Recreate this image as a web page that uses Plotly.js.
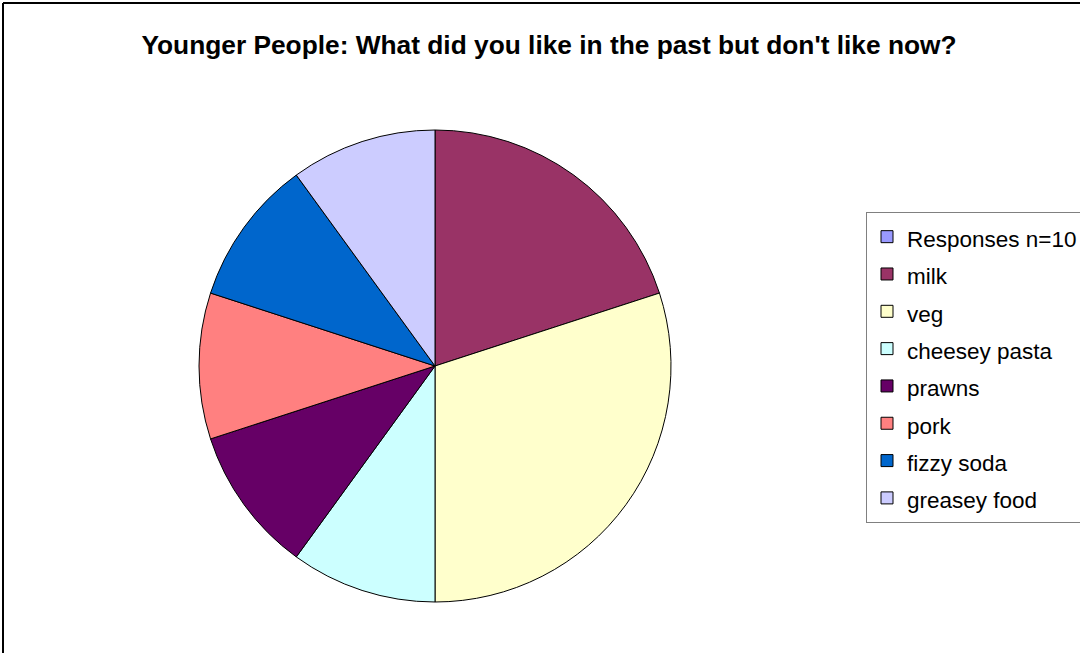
<!DOCTYPE html>
<html>
<head>
<meta charset="utf-8">
<script src="https://cdn.plot.ly/plotly-3.0.1.min.js"></script>
<style>
  html, body { margin: 0; padding: 0; background: #ffffff; }
  #chart { width: 1080px; height: 653px; }
</style>
</head>
<body>
<div id="chart"></div>
<script>
const categories = ["Responses n=10", "milk", "veg", "cheesey pasta", "prawns", "pork", "fizzy soda", "greasey food"];
const counts = [0, 2, 3, 1, 1, 1, 1, 1];
const sliceColors = ["#9999FF", "#993366", "#FFFFCC", "#CCFFFF", "#660066", "#FF8080", "#0066CC", "#CCCCFF"];
const chartTitle = "Younger People: What did you like in the past but don't like now?";

const W = 1080, H = 653;
const cx = 435, cy = 366, r = 236;

const trace = {
  type: 'pie',
  labels: categories.map(c => '<span style="font-size:22.5px">' + c + '</span>'),
  values: counts,
  sort: false,
  direction: 'clockwise',
  rotation: 0,
  textinfo: 'none',
  hoverinfo: 'label+value+percent',
  marker: { colors: sliceColors, line: { color: '#000000', width: 1 } },
  domain: {
    x: [(cx - r) / W, (cx + r) / W],
    y: [(H - cy - r) / H, (H - cy + r) / H]
  },
  showlegend: true
};

const layout = {
  width: W,
  height: H,
  margin: { l: 0, r: 0, t: 0, b: 0, autoexpand: false },
  paper_bgcolor: '#ffffff',
  font: { family: 'Liberation Sans, Arial, sans-serif', color: '#000000' },
  title: {
    text: '<b>' + chartTitle + '</b>',
    font: { family: 'Liberation Sans, Arial, sans-serif', size: 26.3, color: '#000000' },
    x: 549 / W, xanchor: 'center', xref: 'container',
    y: 1 - 45 / H, yanchor: 'middle', yref: 'container'
  },
  legend: {
    x: 866 / W, xanchor: 'left',
    y: 1 - 212 / H, yanchor: 'top',
    bgcolor: '#ffffff',
    bordercolor: '#808080',
    borderwidth: 1,
    font: { family: 'Liberation Sans, Arial, sans-serif', size: 26.4, color: '#000000' }
  },
  shapes: [
    { type: 'line', xref: 'paper', yref: 'paper', x0: 3 / W, x1: 3 / W, y0: -0.05, y1: 1 - 3 / H, line: { color: '#000000', width: 2 } },
    { type: 'line', xref: 'paper', yref: 'paper', x0: 3 / W, x1: 1.05, y0: 1 - 3 / H, y1: 1 - 3 / H, line: { color: '#000000', width: 2 } }
  ]
};

Plotly.newPlot('chart', [trace], layout, { displayModeBar: false });
</script>
</body>
</html>
